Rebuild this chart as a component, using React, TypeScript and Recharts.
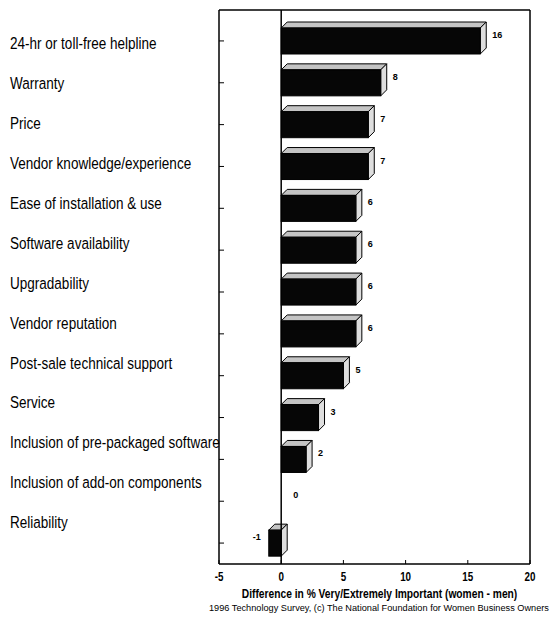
import { BarChart, Bar, XAxis, YAxis, ReferenceLine, Label } from 'recharts'

const categories = [
  '24-hr or toll-free helpline',
  'Warranty',
  'Price',
  'Vendor knowledge/experience',
  'Ease of installation & use',
  'Software availability',
  'Upgradability',
  'Vendor reputation',
  'Post-sale technical support',
  'Service',
  'Inclusion of pre-packaged software',
  'Inclusion of add-on components',
  'Reliability',
]
const differences = [16, 8, 7, 7, 6, 6, 6, 6, 5, 3, 2, 0, -1]
const xTicks = [-5, 0, 5, 10, 15, 20]

const data = categories.map((name, i) => ({ name, value: differences[i] }))

// no narrow face installed, so squeeze Arial-metric text horizontally
const SANS = '"Liberation Sans", Arial, sans-serif'
const SQUEEZE = 0.82
const DEPTH = 6

const CategoryTick = ({ x, y, payload, index }: any) => (
  <g>
    <line x1={x} x2={x + 5} y1={y} y2={y} stroke="#000" />
    <text
      transform={`translate(2, ${y + 2 - index * 1.9}) scale(${SQUEEZE}, 1)`}
      dominantBaseline="central"
      fontFamily={SANS}
      fontSize={16.5}
      fill="#000"
    >
      {payload.value}
    </text>
  </g>
)

const ValueTick = ({ x, y, payload }: any) => (
  <g>
    <line x1={x} x2={x} y1={y} y2={y - 4} stroke="#000" />
    <text
      transform={`translate(${x}, ${y + 13}) scale(${SQUEEZE}, 1)`}
      textAnchor="middle"
      dominantBaseline="central"
      fontFamily={SANS}
      fontWeight="bold"
      fontSize={12}
      fill="#000"
    >
      {payload.value}
    </text>
  </g>
)

const AxisTitle = ({ viewBox }: any) => {
  const { x, y, width, height } = viewBox
  return (
    <text
      transform={`translate(${x + width / 2 + 5}, ${y + height - 8}) scale(${SQUEEZE}, 1)`}
      textAnchor="middle"
      dominantBaseline="central"
      fontFamily={SANS}
      fontWeight="bold"
      fontSize={12.5}
      fill="#000"
    >
      Difference in % Very/Extremely Important (women - men)
    </text>
  )
}

// front face + top face + right side, like the old 3-D bar look
const Bar3D = (props: any) => {
  const { x, y, width, height, payload } = props
  const v = payload.value
  const left = Math.min(x, x + width)
  const w = Math.abs(width)
  const right = left + w
  const top = y
  const bottom = y + height
  const d = DEPTH
  const labelY = y + height / 2 - 6
  return (
    <g>
      {w > 0 && (
        <>
          <polygon points={`${left},${top} ${left + d},${top - d} ${right + d},${top - d} ${right},${top}`} fill="#c4c4c4" stroke="#000" strokeWidth={1} />
          <polygon points={`${right},${top} ${right + d},${top - d} ${right + d},${bottom - d} ${right},${bottom}`} fill="#dedede" stroke="#000" strokeWidth={1} />
          <rect x={left} y={top} width={w} height={height} fill="#060606" stroke="#000" strokeWidth={1} />
        </>
      )}
      <text
        x={v < 0 ? left - 8 : right + d + 6}
        y={labelY}
        textAnchor={v < 0 ? 'end' : 'start'}
        dominantBaseline="central"
        fontFamily={SANS}
        fontWeight="bold"
        fontSize={9}
        fill="#000"
      >
        {v}
      </text>
    </g>
  )
}

export default function App() {
  return (
    <div style={{ width: 551, background: '#fff', overflow: 'hidden' }}>
      <BarChart width={551} height={594} data={data} layout="vertical" margin={{ top: 1, right: 28, bottom: 0, left: 0 }}>
        <XAxis
          type="number"
          dataKey="value"
          domain={[-5, 20]}
          ticks={xTicks}
          interval={0}
          height={38}
          tickSize={0}
          tickMargin={0}
          tickLine={false}
          axisLine={{ stroke: '#000', strokeWidth: 1.5 }}
          tick={<ValueTick />}
        >
          <Label content={<AxisTitle />} />
        </XAxis>
        <XAxis xAxisId="top" orientation="top" type="number" domain={[-5, 20]} height={1} tick={false} tickLine={false} axisLine={{ stroke: '#000', strokeWidth: 1.5 }} />
        <YAxis
          type="category"
          dataKey="name"
          width={211}
          padding={{ top: 10, bottom: 0 }}
          tickSize={0}
          tickMargin={0}
          tickLine={false}
          interval={0}
          axisLine={{ stroke: '#000', strokeWidth: 1.5 }}
          tick={<CategoryTick />}
        />
        <YAxis yAxisId="right" orientation="right" type="category" dataKey="name" width={1} tick={false} tickLine={false} axisLine={{ stroke: '#000', strokeWidth: 1.5 }} />
        <ReferenceLine x={0} stroke="#000" strokeWidth={1.5} />
        <Bar dataKey="value" barSize={26} shape={<Bar3D />} isAnimationActive={false} />
      </BarChart>
      <div
        style={{
          paddingLeft: 201,
          fontFamily: SANS,
          fontSize: 9.2,
          lineHeight: '12px',
          whiteSpace: 'nowrap',
          color: '#000',
        }}
      >
        1996 Technology Survey, (c) The National Foundation for Women Business Owners
      </div>
    </div>
  )
}
